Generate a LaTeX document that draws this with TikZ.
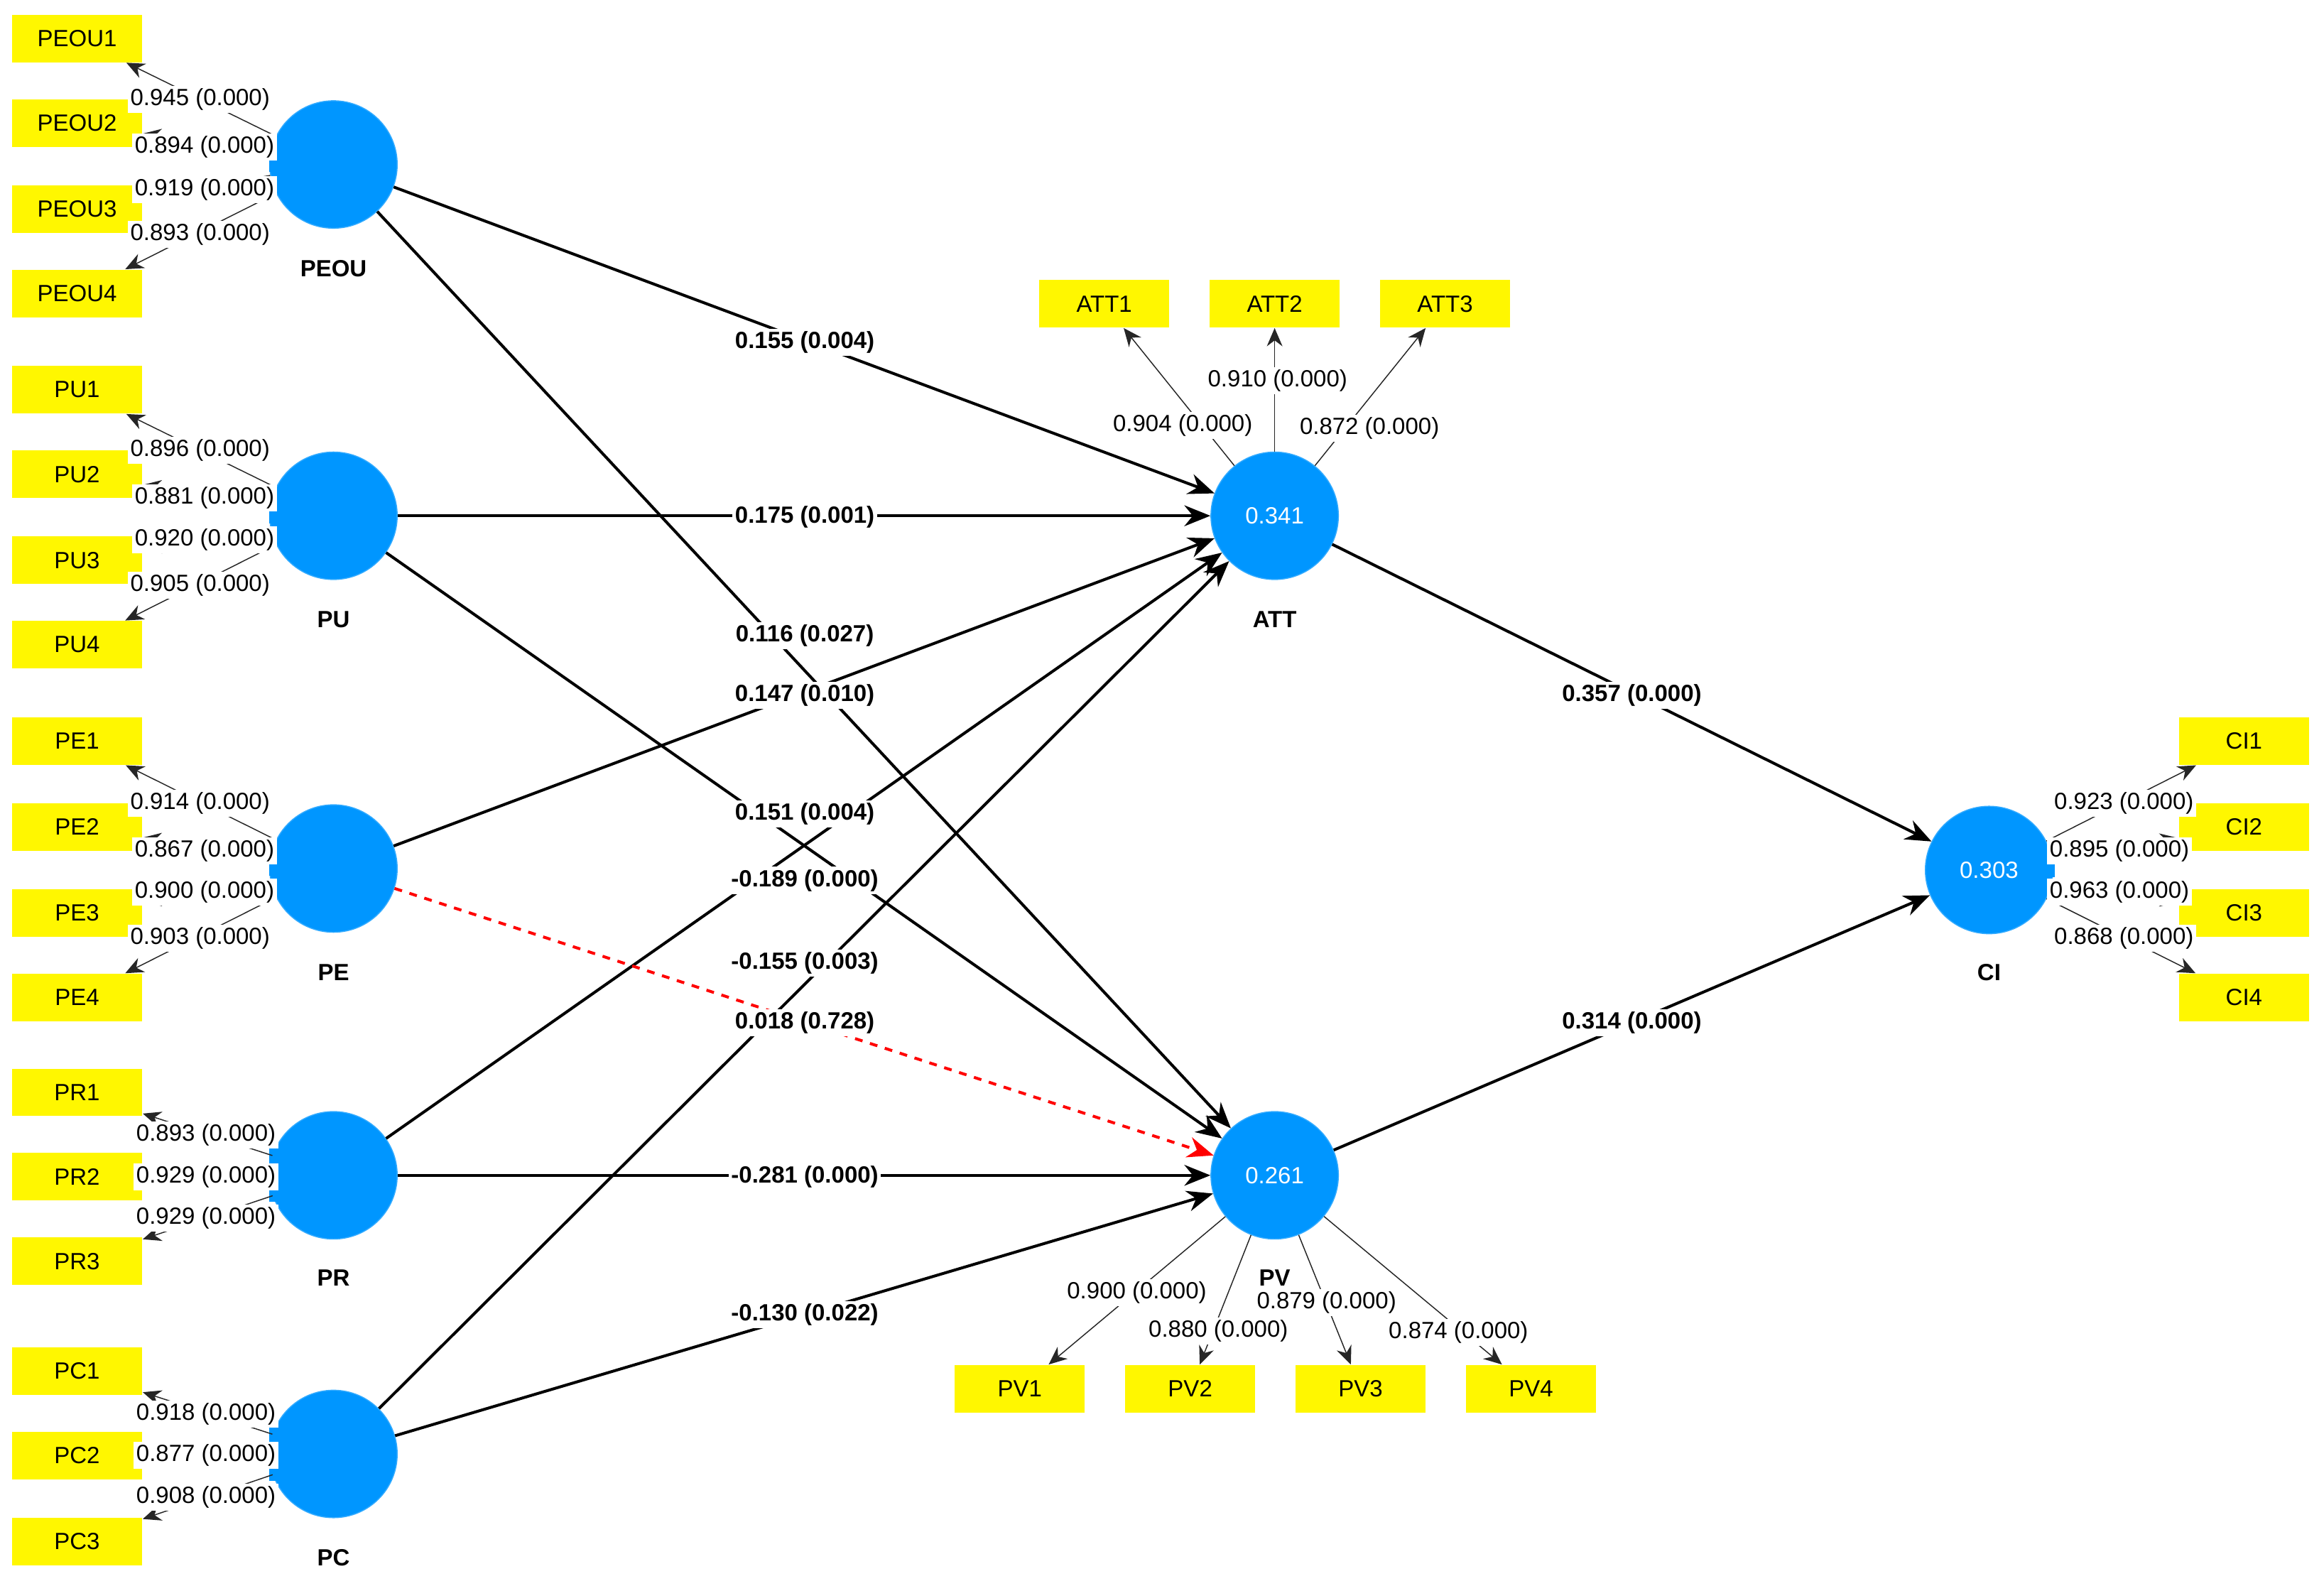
\documentclass[tikz,border=0pt]{standalone}
\usepackage{fontspec}
\setmainfont{Liberation Sans}
\usetikzlibrary{arrows.meta}
\definecolor{lvblue}{RGB}{0,150,255}
\definecolor{indy}{RGB}{255,247,0}
\begin{document}
\begin{tikzpicture}[x=0.02cm,y=-0.02cm,
  lv/.style={circle,fill=lvblue,draw=lvblue!80,minimum size=1.72cm,inner sep=0pt,text=white,font=\fontsize{9}{10}\selectfont},
  ind/.style={rectangle,fill=indy,minimum width=1.76cm,minimum height=0.64cm,inner sep=0pt,font=\fontsize{9}{10}\selectfont},
  nm/.style={font=\bfseries\fontsize{9}{10}\selectfont},
  ld/.style={font=\fontsize{9}{10}\selectfont,fill=white,inner sep=1pt},
  pl/.style={font=\bfseries\fontsize{9}{10}\selectfont,fill=white,inner sep=1pt},
  oa/.style={-{Stealth[length=7pt,width=6pt]},thin,black!85},
  pa/.style={-{Stealth[length=10pt,width=8pt]},line width=1.1pt},
  tab/.style={fill=lvblue,minimum width=0.14cm,minimum height=0.2cm,inner sep=0pt}]
\useasboundingbox (0,0) rectangle (1568,1070);
% latent variables
\node[lv] (PEOU) at (225,111) {};
\node[lv] (PU) at (225,348) {};
\node[lv] (PE) at (225,586) {};
\node[lv] (PR) at (225,793) {};
\node[lv] (PC) at (225,981) {};
\node[lv] (ATT) at (860,348) {0.341};
\node[lv] (PV) at (860,793) {0.261};
\node[lv] (CI) at (1342,587) {0.303};
\node[nm] (nPEOU) at (225,181) {PEOU};
\node[nm] (nPU) at (225,418) {PU};
\node[nm] (nPE) at (225,656) {PE};
\node[nm] (nPR) at (225,862) {PR};
\node[nm] (nPC) at (225,1051) {PC};
\node[nm] (nATT) at (860,418) {ATT};
\node[nm] (nPV) at (860,862) {PV};
\node[nm] (nCI) at (1342,656) {CI};
% tabs
\node[tab] (t1) at (185,111) {};
\node[tab] (t2) at (185,348) {};
\node[tab] (t3) at (185,586) {};
\node[tab] (t4) at (185,780) {};
\node[tab] (t5) at (185,806) {};
\node[tab] (t6) at (185,968) {};
\node[tab] (t7) at (185,994) {};
\node[tab] (t8) at (1383,587) {};
% indicators left
\foreach \n/\y/\p in {PEOU1/26/PEOU,PEOU2/83/PEOU,PEOU3/141/PEOU,PEOU4/198/PEOU,
  PU1/263/PU,PU2/320/PU,PU3/378/PU,PU4/435/PU,
  PE1/500/PE,PE2/558/PE,PE3/616/PE,PE4/673/PE,
  PR1/737/PR,PR2/794/PR,PR3/851/PR,
  PC1/925/PC,PC2/982/PC,PC3/1040/PC}{
  \node[ind] (\n) at (52,\y) {\n};
  \draw[oa] (\p) -- (\n);
}
\foreach \n/\x in {ATT1/745,ATT2/860,ATT3/975}{
  \node[ind] (\n) at (\x,205) {\n};
  \draw[oa] (ATT) -- (\n);
}
\foreach \n/\x in {PV1/688,PV2/803,PV3/918,PV4/1033}{
  \node[ind] (\n) at (\x,937) {\n};
  \draw[oa] (PV) -- (\n);
}
\foreach \n/\y in {CI1/500,CI2/558,CI3/616,CI4/673}{
  \node[ind] (\n) at (1514,\y) {\n};
  \draw[oa] (CI) -- (\n);
}
% loadings
\foreach \t/\x/\y in {0.945 (0.000)/135/67,0.894 (0.000)/138/99,0.919 (0.000)/138/128,0.893 (0.000)/135/158,
 0.896 (0.000)/135/304,0.881 (0.000)/138/336,0.920 (0.000)/138/364,0.905 (0.000)/135/395,
 0.914 (0.000)/135/542,0.867 (0.000)/138/574,0.900 (0.000)/138/602,0.903 (0.000)/135/633,
 0.893 (0.000)/139/766,0.929 (0.000)/139/794,0.929 (0.000)/139/822,
 0.918 (0.000)/139/954,0.877 (0.000)/139/982,0.908 (0.000)/139/1010,
 0.904 (0.000)/798/287,0.910 (0.000)/862/257,0.872 (0.000)/924/289,
 0.900 (0.000)/767/872,0.880 (0.000)/822/898,0.879 (0.000)/895/879,0.874 (0.000)/984/899,
 0.923 (0.000)/1433/542,0.895 (0.000)/1430/574,0.963 (0.000)/1430/602,0.868 (0.000)/1433/633}{
  \node[ld] at (\x,\y) {\t};
}
% paths
\draw[pa] (PEOU) -- (ATT);
\draw[pa] (PU) -- (ATT);
\draw[pa] (PEOU) -- (PV);
\draw[pa] (PE) -- (ATT);
\draw[pa] (PU) -- (PV);
\draw[pa] (PR) -- (ATT);
\draw[pa] (PC) -- (ATT);
\draw[pa,red,dashed] (PE) -- (PV);
\draw[pa] (PR) -- (PV);
\draw[pa] (PC) -- (PV);
\draw[pa] (ATT) -- (CI);
\draw[pa] (PV) -- (CI);
\foreach \t/\x/\y in {0.155 (0.004)/543/231,0.175 (0.001)/543/349,0.116 (0.027)/543/429,
 0.147 (0.010)/543/469,0.151 (0.004)/543/549,-0.189 (0.000)/543/594,-0.155 (0.003)/543/650,
 0.018 (0.728)/543/690,-0.281 (0.000)/543/794,-0.130 (0.022)/543/887,
 0.357 (0.000)/1101/469,0.314 (0.000)/1101/690}{
  \node[pl] at (\x,\y) {\t};
}
\end{tikzpicture}
\end{document}
